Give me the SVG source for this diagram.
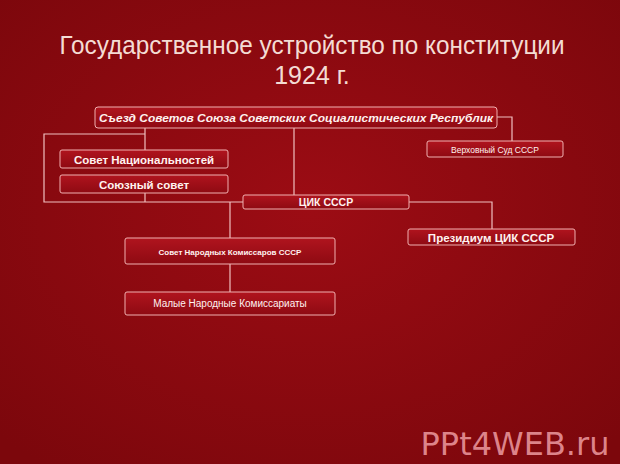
<svg xmlns="http://www.w3.org/2000/svg" width="620" height="464" viewBox="0 0 620 464">
<defs>
<radialGradient id="bg" cx="50%" cy="45%" r="70%">
<stop offset="0" stop-color="#9c0c14"/>
<stop offset="1" stop-color="#7c070c"/>
</radialGradient>
<linearGradient id="box" x1="0" y1="0" x2="0" y2="1">
<stop offset="0" stop-color="#b0141e"/>
<stop offset="1" stop-color="#8e0a12"/>
</linearGradient>
</defs>
<style>
.b{fill:url(#box);stroke:#f0b0b0;stroke-width:1}
.t{font-family:"Liberation Sans",Arial,sans-serif;fill:#fff2f0;text-anchor:middle;font-weight:bold}
.n{font-weight:normal}
.c{fill:none;stroke:#f0c0c0;stroke-width:1.2}
.ti{font-family:"Liberation Sans Narrow","Liberation Sans",Arial,sans-serif;fill:#f4dcd4;text-anchor:middle}
</style>
<rect width="620" height="464" fill="url(#bg)"/>
<text class="ti" x="312" y="54" font-size="25" textLength="505" lengthAdjust="spacingAndGlyphs">Государственное устройство по конституции</text>
<text class="ti" x="312" y="84" font-size="25">1924 г.</text>
<g id="connectors">
<polyline class="c" points="497,117 512,117 512,141"/>
<line class="c" x1="145" y1="128" x2="145" y2="150"/>
<polyline class="c" points="145,134 44,134 44,202 243,202"/>
<line class="c" x1="145" y1="193" x2="145" y2="202"/>
<line class="c" x1="294" y1="128" x2="294" y2="195"/>
<polyline class="c" points="409,202 492,202 492,229"/>
<line class="c" x1="230" y1="202" x2="230" y2="238"/>
<line class="c" x1="230" y1="264" x2="230" y2="292"/>
</g>
<g id="n-congress">
<rect class="b" x="95" y="107" width="402" height="21" rx="3"/>
<text class="t" x="296" y="121.5" font-size="10" font-style="italic" textLength="394" lengthAdjust="spacingAndGlyphs">Съезд Советов Союза Советских Социалистических Республик</text>
</g>
<g id="n-court">
<rect class="b" x="427" y="141" width="136" height="16" rx="2"/>
<text class="t n" x="495" y="152.5" font-size="8.5">Верховный Суд СССР</text>
</g>
<g id="n-nat">
<rect class="b" x="60" y="150" width="168" height="18" rx="2"/>
<text class="t" x="144" y="163.5" font-size="11.5">Совет Национальностей</text>
</g>
<g id="n-union">
<rect class="b" x="60" y="175" width="168" height="18" rx="2"/>
<text class="t" x="144" y="188.5" font-size="11.5">Союзный совет</text>
</g>
<g id="n-cik">
<rect class="b" x="243" y="195" width="166" height="14" rx="2"/>
<text class="t" x="326" y="206" font-size="10.5">ЦИК СССР</text>
</g>
<g id="n-presidium">
<rect class="b" x="408" y="229" width="167" height="16" rx="2"/>
<text class="t" x="491" y="241.5" font-size="11.5">Президиум ЦИК СССР</text>
</g>
<g id="n-snk">
<rect class="b" x="125" y="238" width="210" height="26" rx="2"/>
<text class="t" x="230" y="254.5" font-size="8">Совет Народных Комиссаров СССР</text>
</g>
<g id="n-narkom">
<rect class="b" x="125" y="292" width="210" height="23" rx="2"/>
<text class="t n" x="230" y="307" font-size="10">Малые Народные Комиссариаты</text>
</g>
<text x="515" y="455" font-family="DejaVu Sans,sans-serif" font-size="32" fill="#ee9ca2" fill-opacity="0.85" text-anchor="middle">PPt4WEB.ru</text>
</svg>
